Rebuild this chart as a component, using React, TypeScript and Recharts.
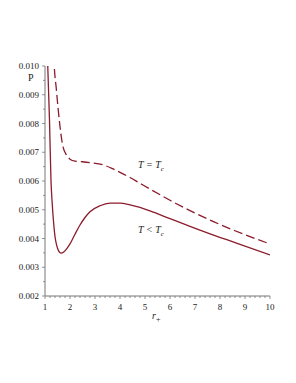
import React from "react";
import { Line, LineChart, XAxis, YAxis } from "recharts";

document.body.style.margin = "0";

const LINE_COLOR = "#8b1c2c";
const AXIS_COLOR = "#777";
const SERIF = "'Liberation Serif', 'Times New Roman', 'DejaVu Serif', serif";

// T < Tc (solid)
const rBelow = [1.06, 1.11, 1.18, 1.24, 1.29, 1.34, 1.4, 1.47, 1.55, 1.64, 1.75, 1.88, 2.0, 2.2, 2.4, 2.6, 2.8, 3.2, 3.6, 4.0, 4.4, 4.8, 5.2, 6.0, 6.8, 7.6, 8.6, 10];
const pBelow = [0.0115, 0.01, 0.0081, 0.006, 0.0052, 0.0046, 0.00407, 0.00375, 0.00356, 0.00349, 0.00353, 0.00366, 0.00381, 0.00415, 0.00447, 0.00473, 0.00493, 0.00514, 0.00523, 0.00523, 0.00517, 0.00508, 0.00496, 0.00469, 0.00442, 0.00416, 0.00386, 0.00343];

// T = Tc (dashed)
const rCrit = [1.33, 1.37, 1.45, 1.53, 1.6, 1.67, 1.74, 1.81, 2.0, 2.2, 2.5, 2.8, 3.33, 3.67, 4.0, 4.4, 4.8, 5.2, 6.0, 6.8, 7.6, 8.6, 10];
const pCrit = [0.0108, 0.01, 0.00923, 0.00847, 0.0079, 0.00743, 0.00713, 0.00698, 0.00676, 0.00669, 0.00667, 0.00664, 0.00656, 0.00644, 0.0063, 0.00612, 0.00592, 0.00572, 0.00533, 0.00497, 0.00464, 0.00427, 0.00381];

const xTicks = [1, 1.2, 1.4, 1.6, 1.8, 2, 2.2, 2.4, 2.6, 2.8, 3, 3.2, 3.4, 3.6, 3.8, 4, 4.2, 4.4, 4.6, 4.8, 5, 5.2, 5.4, 5.6, 5.8, 6, 6.2, 6.4, 6.6, 6.8, 7, 7.2, 7.4, 7.6, 7.8, 8, 8.2, 8.4, 8.6, 8.8, 9, 9.2, 9.4, 9.6, 9.8, 10];
const xLabels = [1, 2, 3, 4, 5, 6, 7, 8, 9, 10];
const yTicks = [0.002, 0.0025, 0.003, 0.0035, 0.004, 0.0045, 0.005, 0.0055, 0.006, 0.0065, 0.007, 0.0075, 0.008, 0.0085, 0.009, 0.0095, 0.01];
const yLabels = [0.002, 0.003, 0.004, 0.005, 0.006, 0.007, 0.008, 0.009, 0.01];

const belowData = rBelow.map((r, i) => ({ r, p: pBelow[i] }));
const critData = rCrit.map((r, i) => ({ r, p: pCrit[i] }));

const isLabel = (list: number[], v: number) => list.some(l => Math.abs(l - v) < 1e-9);

function XTick({ x, y, payload }: any) {
  const major = isLabel(xLabels, payload.value);
  return (
    <g>
      <line x1={x} x2={x} y1={y} y2={y + (major ? 3 : 2)} stroke={AXIS_COLOR} strokeWidth={0.8} />
      {major && (
        <text x={x} y={y + 14} textAnchor="middle" fontSize={9} fontFamily={SERIF} fill="#222">
          {payload.value}
        </text>
      )}
    </g>
  );
}

function YTick({ x, y, payload }: any) {
  const major = isLabel(yLabels, payload.value);
  return (
    <g>
      <line x1={x - (major ? 3 : 2)} x2={x} y1={y} y2={y} stroke={AXIS_COLOR} strokeWidth={0.8} />
      {major && (
        <text x={x - 6} y={y + 3} textAnchor="end" fontSize={9} fontFamily={SERIF} fill="#222">
          {payload.value.toFixed(3)}
        </text>
      )}
    </g>
  );
}

const labelStyle: React.CSSProperties = {
  position: "absolute", fontFamily: SERIF, fontStyle: "italic", fontSize: 10, color: "#222", whiteSpace: "nowrap", lineHeight: 1,
};

export default function App() {
  return (
    <div style={{ position: "relative", width: 296, height: 383, background: "#fff" }}>
      <LineChart width={296} height={383} margin={{ top: 66, right: 26, bottom: 67, left: 0 }}>
        <XAxis
          dataKey="r" type="number" domain={[1, 10]} ticks={xTicks} interval={0}
          allowDataOverflow height={20} tickSize={0} tickMargin={0}
          tick={<XTick />} tickLine={false} axisLine={{ stroke: AXIS_COLOR, strokeWidth: 1 }}
        />
        <YAxis
          dataKey="p" type="number" domain={[0.002, 0.01]} ticks={yTicks} interval={0}
          allowDataOverflow width={45} tickSize={0} tickMargin={0}
          tick={<YTick />} tickLine={false} axisLine={{ stroke: AXIS_COLOR, strokeWidth: 1 }}
        />
        <Line data={critData} dataKey="p" type="monotone" stroke={LINE_COLOR} strokeWidth={1.3}
          strokeDasharray="9 4" dot={false} isAnimationActive={false} />
        <Line data={belowData} dataKey="p" type="monotone" stroke={LINE_COLOR} strokeWidth={1.3}
          dot={false} isAnimationActive={false} />
      </LineChart>
      <div style={{ ...labelStyle, fontStyle: "normal", left: 28, top: 73 }}>P</div>
      <div style={{ ...labelStyle, left: 138, top: 160 }}>
        T = T<sub style={{ fontSize: 7, verticalAlign: -3 }}>c</sub>
      </div>
      <div style={{ ...labelStyle, left: 138, top: 225 }}>
        T &lt; T<sub style={{ fontSize: 7, verticalAlign: -3 }}>c</sub>
      </div>
      <div style={{ ...labelStyle, left: 152, top: 311 }}>
        r<sub style={{ fontSize: 8, fontStyle: "normal", verticalAlign: -3 }}>+</sub>
      </div>
    </div>
  );
}
